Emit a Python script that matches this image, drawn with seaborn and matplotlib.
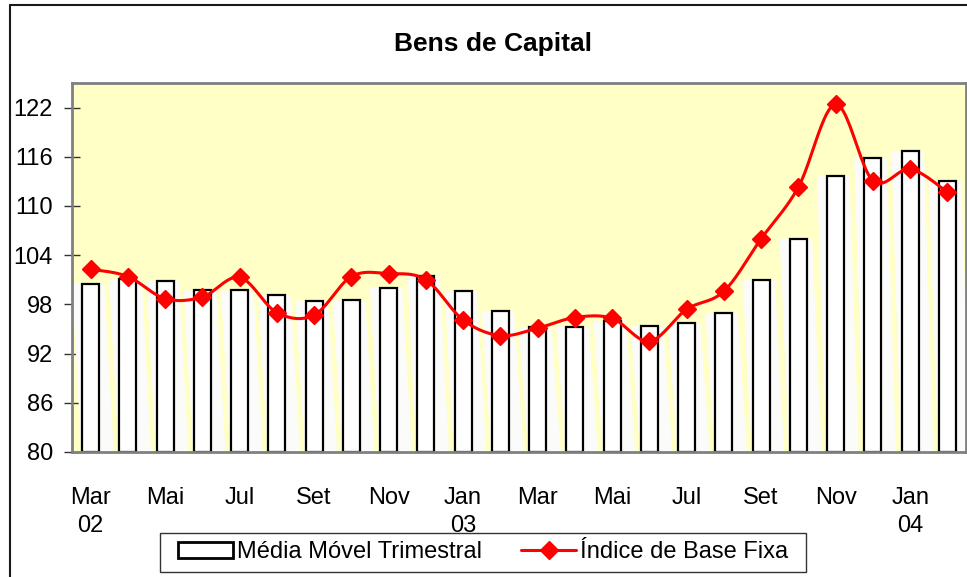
import numpy as np
import pandas as pd
import matplotlib
matplotlib.use("Agg")
import matplotlib.pyplot as plt
from matplotlib.patches import Patch, Rectangle
from matplotlib.lines import Line2D
import seaborn as sns

# Monthly periods, Mar/2002 to Feb/2004
periodos = ["2002-03", "2002-04", "2002-05", "2002-06", "2002-07", "2002-08",
            "2002-09", "2002-10", "2002-11", "2002-12", "2003-01", "2003-02",
            "2003-03", "2003-04", "2003-05", "2003-06", "2003-07", "2003-08",
            "2003-09", "2003-10", "2003-11", "2003-12", "2004-01", "2004-02"]

# Tick labels (every other month, year under first month of each year shown)
rotulos_x = ["Mar\n02", "", "Mai", "", "Jul", "", "Set", "", "Nov", "",
             "Jan\n03", "", "Mar", "", "Mai", "", "Jul", "", "Set", "", "Nov", "",
             "Jan\n04", ""]

# Three-month moving average (bars)
media_movel = [100.5, 101.1, 100.9, 99.7, 99.7, 99.1, 98.4, 98.5, 100.0, 101.5,
               99.6, 97.2, 95.2, 95.3, 96.0, 95.4, 95.7, 96.9, 101.0, 106.0,
               113.6, 115.9, 116.7, 113.1]

# Fixed-base index (line)
indice_base_fixa = [102.3, 101.4, 98.7, 98.9, 101.3, 97.0, 96.7, 101.4, 101.75, 101.0,
                    96.1, 94.2, 95.1, 96.4, 96.3, 93.5, 97.4, 99.6, 106.0, 112.3,
                    122.4, 113.1, 114.5, 111.7]

y_ticks = [80, 86, 92, 98, 104, 110, 116, 122]
Y_MIN, Y_MAX = 80, 125

sns.set_style("white")
plt.rcParams["font.family"] = ["Liberation Sans", "DejaVu Sans"]
plt.rcParams["text.color"] = "black"
plt.rcParams["xtick.color"] = "black"
plt.rcParams["ytick.color"] = "black"

FS = 17
W, H = 967, 577
fig = plt.figure(figsize=(W / 100, H / 100), dpi=100)
ax = fig.add_axes([72 / W, 125 / H, 894 / W, 369 / H])
ax.set_facecolor("#FFFFC6")

df = pd.DataFrame({"periodo": periodos, "media": media_movel, "indice": indice_base_fixa})
x = np.arange(len(periodos))

# light slanted shading behind each bar
gap, slant = 0.13, 0.25
for i, v in zip(x, media_movel):
    ax.fill([i - 0.5, i + 0.5 - gap, i + 0.5 - gap + slant, i - 0.5 + slant],
            [v, v, Y_MIN, Y_MIN], color="#FBFBFA", lw=0, zorder=1)

# bars
sns.barplot(data=df, x="periodo", y="media", ax=ax, color="white",
            width=0.46, edgecolor="black", linewidth=1.6, saturation=1, zorder=2)
for p in ax.patches:
    if isinstance(p, Rectangle) and p.get_height() > Y_MIN:
        h = p.get_height()
        p.set_y(Y_MIN)
        p.set_height(h - Y_MIN)
        p.set_zorder(2)


def smooth_curve(xs, ys, n=24):
    pts = np.column_stack([xs, ys]).astype(float)
    m = len(pts)
    out = []
    t = np.linspace(0, 1, n)[:, None]
    for i in range(m - 1):
        p0 = pts[max(i - 1, 0)]
        p1 = pts[i]
        p2 = pts[i + 1]
        p3 = pts[min(i + 2, m - 1)]
        c1 = p1 + (p2 - p0) / 6
        c2 = p2 - (p3 - p1) / 6
        seg = ((1 - t) ** 3) * p1 + 3 * ((1 - t) ** 2) * t * c1 + 3 * (1 - t) * t ** 2 * c2 + t ** 3 * p2
        out.append(seg if i == 0 else seg[1:])
    out = np.vstack(out)
    return out[:, 0], out[:, 1]


sx, sy = smooth_curve(x, indice_base_fixa)
ax.plot(sx, sy, color="#FF0000", lw=2.2, zorder=4, solid_capstyle="round")
ax.plot(x, indice_base_fixa, ls="none", marker="D", ms=9.5, color="#FF0000",
        markeredgecolor="#FF0000", zorder=5)

ax.set_xlim(-0.5, len(periodos) - 0.5)
ax.set_ylim(Y_MIN, Y_MAX)
ax.set_xlabel("")
ax.set_ylabel("")

ax.set_yticks(y_ticks)
ax.set_yticklabels([str(v) for v in y_ticks], fontsize=FS)
ax.set_xticks(x)
ax.set_xticklabels(rotulos_x, fontsize=FS, linespacing=1.35)
ax.set_xticks(np.arange(-0.5, len(periodos), 1), minor=True)
ax.tick_params(axis="x", which="major", length=0, pad=25)
ax.tick_params(axis="x", which="minor", direction="inout", length=11.5, width=1.0,
               color="#333333")
ax.tick_params(axis="y", which="major", direction="inout", length=11.5, width=1.0,
               color="#333333", pad=8, left=True)

for s in ax.spines.values():
    s.set_visible(True)
    s.set_color("#808080")
    s.set_linewidth(2)
    s.set_zorder(6)

fig.text(493.5 / W, 1 - 44 / H, "Bens de Capital", ha="center", va="center",
         fontsize=19, fontweight="bold", color="black")

# outer frame (left and top edges)
frame_kw = dict(transform=fig.transFigure, color="#1a1a1a", lw=1.5)
fig.add_artist(Line2D([10 / W, 10 / W], [0, 1 - 5 / H], **frame_kw))
fig.add_artist(Line2D([10 / W, 1], [1 - 5 / H, 1 - 5 / H], **frame_kw))

# legend box
fig.add_artist(Rectangle((160 / W, 1 - 572 / H), 646 / W, 39 / H,
                         transform=fig.transFigure, facecolor="white",
                         edgecolor="#333333", lw=1.0, zorder=3))
handles = [
    Patch(facecolor="white", edgecolor="black", linewidth=2, label="Média Móvel Trimestral"),
    Line2D([0], [0], color="#FF0000", lw=2.2, marker="D", ms=9.5,
           label="Índice de Base Fixa"),
]
leg = fig.legend(handles=handles, loc="center", bbox_to_anchor=(483 / W, 1 - 552.5 / H),
                 ncol=2, fontsize=FS, frameon=False,
                 handlelength=2.35, handleheight=0.68, handletextpad=0.15,
                 columnspacing=1.65, borderpad=0.0, borderaxespad=0)
leg.set_zorder(4)

fig.savefig("out.png", dpi=100)
